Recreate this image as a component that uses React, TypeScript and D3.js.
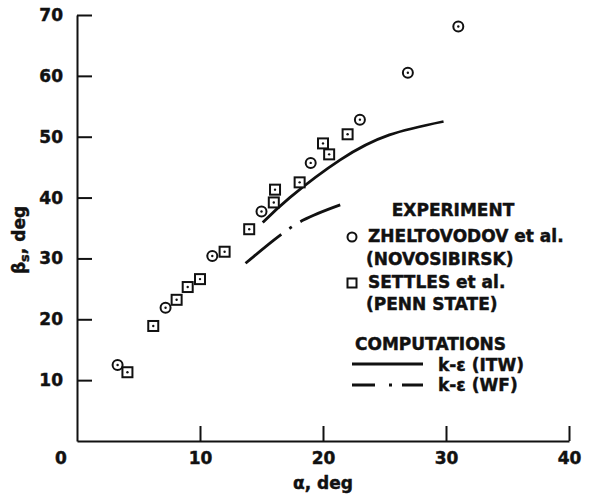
import React, { useEffect, useRef } from "react";
import * as d3 from "d3";

// Zheltovodov et al. (Novosibirsk) — circles
const zheltAlpha = [3.3, 7.2, 11.0, 15.0, 19.0, 23.0, 26.9, 31.0];
const zheltBeta = [12.5, 21.9, 30.4, 37.7, 45.7, 52.8, 60.5, 68.1];

// Settles et al. (Penn State) — squares
const settlesAlpha = [4.1, 6.2, 8.1, 9.0, 10.0, 12.0, 14.0, 16.0, 16.1, 18.1, 20.0, 20.5, 22.0];
const settlesBeta = [11.3, 18.9, 23.2, 25.3, 26.6, 31.1, 34.8, 39.2, 41.3, 42.5, 48.9, 47.1, 50.4];

// k-e (ITW) computation — solid
const itwAlpha = [15.1, 17.3, 21.4, 25.4, 29.8];
const itwBeta = [35.9, 40.0, 46.2, 50.3, 52.5];

// k-e (WF) computation — dash-dot
const wfAlpha = [13.7, 16.0, 18.4, 21.4];
const wfBeta = [29.2, 33.0, 36.3, 38.8];

const xTicks = [10, 20, 30, 40];
const yTicks = [10, 20, 30, 40, 50, 60, 70];

const FONT = "'DejaVu Sans', 'Liberation Sans', Arial, sans-serif";

const App = () => {
  const ref = useRef<SVGSVGElement>(null);

  useEffect(() => {
    if (!ref.current) return;
    const svg = d3.select(ref.current);
    svg.selectAll("*").remove();

    const width = 590;
    const height = 498;
    const x = d3.scaleLinear().domain([0, 40]).range([77, 569]);
    const y = d3.scaleLinear().domain([0, 70]).range([441, 15]);

    const ink = "#111";

    const boldText = (sel: any) =>
      sel
        .attr("fill", ink)
        .attr("stroke", ink)
        .attr("stroke-width", 0.45)
        .style("font-family", FONT)
        .style("font-weight", "bold")
        .style("font-size", "17px");

    // axes
    const gx = svg
      .append("g")
      .attr("transform", `translate(0, ${y(0)})`)
      .call(
        d3.axisBottom(x).tickValues(xTicks).tickSizeInner(-15).tickSizeOuter(0).tickPadding(11).tickFormat(d3.format("d"))
      );
    const gy = svg
      .append("g")
      .attr("transform", `translate(${x(0)}, 0)`)
      .call(
        d3.axisLeft(y).tickValues(yTicks).tickSizeInner(-15).tickSizeOuter(0).tickPadding(14).tickFormat(d3.format("d"))
      );

    [gx, gy].forEach((g) => {
      g.select(".domain").attr("stroke", ink).attr("stroke-width", 2);
      g.selectAll(".tick line").attr("stroke", ink).attr("stroke-width", 2);
      boldText(g.selectAll(".tick text"));
    });

    // origin label
    boldText(
      svg.append("text").attr("x", x(0) - 16).attr("y", 464).attr("text-anchor", "middle").text("0")
    );

    // axis titles
    boldText(svg.append("text").attr("x", x(20)).attr("y", 489).attr("text-anchor", "middle").text("α, deg"));

    const yl = boldText(
      svg.append("text").attr("transform", "translate(25, 240) rotate(-90)").attr("text-anchor", "middle")
    );
    yl.append("tspan").text("β");
    yl.append("tspan").attr("dy", 4).style("font-size", "13px").text("s");
    yl.append("tspan").attr("dy", -4).text(", deg");

    // computation curves
    const line = d3
      .line<[number, number]>()
      .x((d) => x(d[0]))
      .y((d) => y(d[1]))
      .curve(d3.curveNatural);

    svg
      .append("path")
      .attr("d", line(itwAlpha.map((a, i) => [a, itwBeta[i]])))
      .attr("fill", "none")
      .attr("stroke", ink)
      .attr("stroke-width", 2.8);

    svg
      .append("path")
      .attr("d", line(wfAlpha.map((a, i) => [a, wfBeta[i]])))
      .attr("fill", "none")
      .attr("stroke", ink)
      .attr("stroke-width", 2.8)
      .attr("stroke-dasharray", "46 10 3 10 60");

    // markers
    const circles = svg.append("g");
    zheltAlpha.forEach((a, i) => {
      const cx = x(a);
      const cy = y(zheltBeta[i]);
      circles.append("circle").attr("cx", cx).attr("cy", cy).attr("r", 5).attr("fill", "#fff").attr("stroke", ink).attr("stroke-width", 2);
      circles.append("circle").attr("cx", cx).attr("cy", cy).attr("r", 1.2).attr("fill", ink);
    });

    const squares = svg.append("g");
    settlesAlpha.forEach((a, i) => {
      const cx = x(a);
      const cy = y(settlesBeta[i]);
      squares.append("rect").attr("x", cx - 5).attr("y", cy - 5).attr("width", 10).attr("height", 10).attr("fill", "#fff").attr("stroke", ink).attr("stroke-width", 2);
      squares.append("circle").attr("cx", cx).attr("cy", cy).attr("r", 1.2).attr("fill", ink);
    });

    // legend
    const legend = svg.append("g");
    const txt = (tx: number, ty: number, s: string, anchor = "start") =>
      boldText(legend.append("text").attr("x", tx).attr("y", ty).attr("text-anchor", anchor).text(s));

    txt(453, 216, "EXPERIMENT", "middle");
    legend.append("circle").attr("cx", 352).attr("cy", 237).attr("r", 4.5).attr("fill", "none").attr("stroke", ink).attr("stroke-width", 2);
    txt(368, 242, "ZHELTOVODOV et al.");
    txt(366, 265, "(NOVOSIBIRSK)");
    legend.append("rect").attr("x", 347.5).attr("y", 278.5).attr("width", 9).attr("height", 9).attr("fill", "none").attr("stroke", ink).attr("stroke-width", 2);
    txt(368, 288, "SETTLES et al.");
    txt(366, 310, "(PENN STATE)");

    txt(355, 350, "COMPUTATIONS");
    legend.append("line").attr("x1", 352).attr("x2", 423).attr("y1", 364).attr("y2", 364).attr("stroke", ink).attr("stroke-width", 2.8);
    txt(438, 371, "k-ε (ITW)");
    legend.append("line").attr("x1", 352).attr("x2", 423).attr("y1", 385).attr("y2", 385).attr("stroke", ink).attr("stroke-width", 2.8).attr("stroke-dasharray", "23 14 3 10 30");
    txt(438, 391, "k-ε (WF)");

    svg.attr("width", width).attr("height", height);
  }, []);

  return (
    <svg
      ref={ref}
      width={590}
      height={498}
      style={{ position: "absolute", left: 0, top: 0, background: "#fff" }}
    />
  );
};

export default App;
